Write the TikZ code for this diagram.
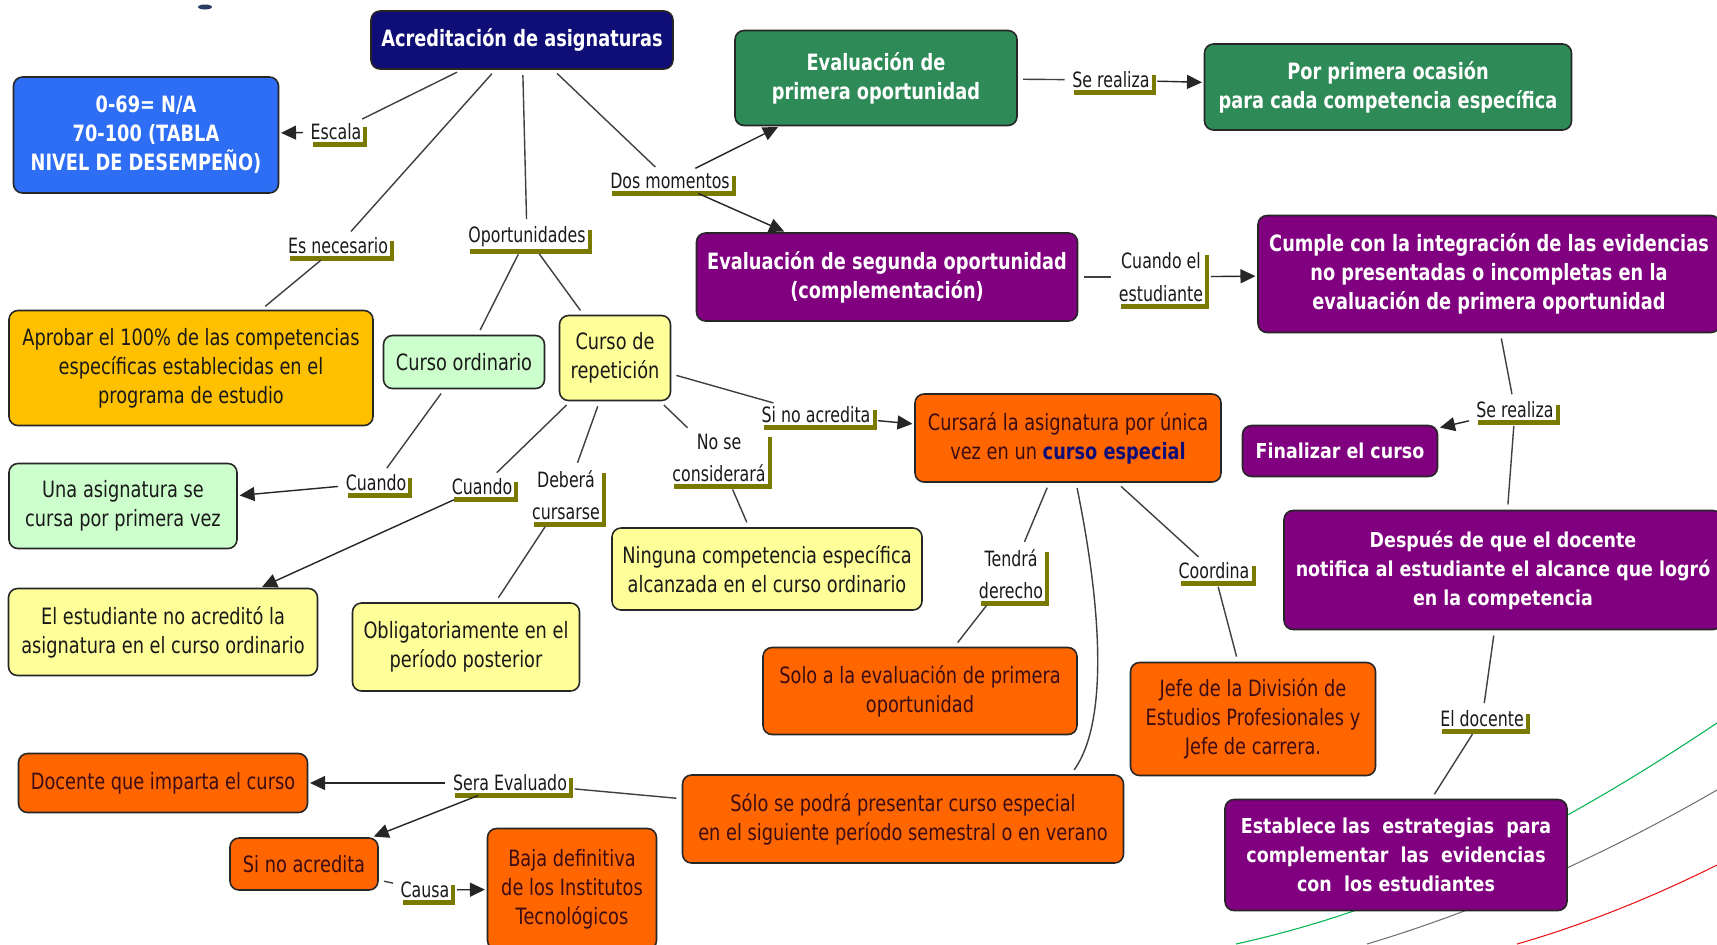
\documentclass[tikz,border=0pt]{standalone}
\usepackage{fontspec}
\setmainfont{DejaVu Sans}[FakeStretch=0.79]
\newfontfamily\lblfont{DejaVu Sans}[FakeStretch=0.75]
\newfontfamily\widefont{DejaVu Sans}[FakeStretch=0.85]
\usetikzlibrary{arrows.meta,shadows,calc}
\definecolor{navy}{RGB}{14,14,118}
\definecolor{bluebox}{RGB}{45,110,245}
\definecolor{greenbox}{RGB}{46,139,87}
\definecolor{purp}{RGB}{128,0,128}
\definecolor{gold}{RGB}{255,192,0}
\definecolor{lgreen}{RGB}{204,255,204}
\definecolor{lyellow}{RGB}{255,255,153}
\definecolor{orangebox}{RGB}{255,102,0}
\definecolor{orangetext}{RGB}{60,12,20}
\definecolor{olivebar}{RGB}{122,122,0}
\definecolor{arcgreen}{RGB}{0,180,80}
\definecolor{arcred}{RGB}{235,20,20}
\definecolor{markblue}{RGB}{40,60,100}
\tikzset{
  wh/.style 2 args={minimum width=#1*0.02cm, minimum height=#2*0.02cm},
  box/.style={draw=black!85, line width=0.9pt, rounded corners=0.18cm, align=center, inner sep=1pt},
  nbold/.style={box, text=white, font=\fontsize{12.8}{16.5}\selectfont\bfseries},
  nreg/.style={box, text=black!90, font=\fontsize{12.8}{16.5}\selectfont},
  norange/.style={box, fill=orangebox, text=orangetext, font=\fontsize{12.8}{16.5}\selectfont},
  nwide/.style={box, text=white, font=\widefont\bfseries\fontsize{11.7}{16.5}\selectfont},
  lbl/.style={fill=white, inner sep=1.2pt, align=center, text=black!90,
    font=\lblfont\fontsize{12}{18.5}\selectfont,
    drop shadow={shadow xshift=0.08cm, shadow yshift=-0.10cm, fill=olivebar, opacity=1}},
  conn/.style={line width=0.8pt, draw=black!75, shorten <=3pt, shorten >=3pt},
  arr/.style={line width=0.8pt, draw=black!85, shorten <=3pt, shorten >=1pt,
    -{Triangle[length=0.3cm,width=0.28cm]}},
  deco/.style={line width=0.6pt}
}
\begin{document}
\begin{tikzpicture}[x=0.02cm, y=-0.02cm]
\useasboundingbox[fill=white] (0,0) rectangle (1717,944);
% small cropped mark at the top edge
\fill[markblue] (205,7) ellipse (7 and 2.5);
% decorative arcs
\draw[deco, arcgreen] (1236,944) .. controls (1436,900) and (1597,803) .. (1717,723);
\draw[deco, black!55] (1367,944) .. controls (1507,902) and (1627,842) .. (1717,790);
\draw[deco, arcred] (1517,944) .. controls (1587,924) and (1657,895) .. (1717,865);
% concept nodes
\node[nbold, fill=navy, wh={302}{58}] (A) at (522,40) {Acreditación de asignaturas};
\node[nbold, fill=bluebox, wh={265}{116}] (B) at (146,135) {0-69= N/A\\70-100 (TABLA\\NIVEL DE DESEMPEÑO)};
\node[nbold, fill=greenbox, wh={282}{95}] (C) at (876,78) {Evaluación de\\primera oportunidad};
\node[nbold, fill=greenbox, wh={367}{86}] (D) at (1388,87) {Por primera ocasión\\para cada competencia específica};
\node[nbold, fill=purp, wh={381}{88}] (E) at (887,277) {Evaluación de segunda oportunidad\\(complementación)};
\node[nbold, fill=purp, wh={462}{117}] (F) at (1489,274) {Cumple con la integración de las evidencias\\no presentadas o incompletas en la\\evaluación de primera oportunidad};
\node[nreg, fill=gold, wh={364}{115}] (G) at (191,368) {Aprobar el 100\% de las competencias\\específicas establecidas en el\\programa de estudio};
\node[nreg, fill=lgreen, wh={161}{53}] (H) at (464,362) {Curso ordinario};
\node[nreg, fill=lyellow, wh={111}{85}] (I) at (615,358) {Curso de\\repetición};
\node[nreg, fill=lgreen, wh={228}{85}] (J) at (123,506) {Una asignatura se\\cursa por primera vez};
\node[nreg, fill=lyellow, wh={309}{87}] (K) at (163,632) {El estudiante no acreditó la\\asignatura en el curso ordinario};
\node[nreg, fill=lyellow, wh={227}{88}] (L) at (466,647) {Obligatoriamente en el\\período posterior};
\node[nreg, fill=lyellow, wh={310}{82}] (M) at (767,569) {Ninguna competencia específica\\alcanzada en el curso ordinario};
\node[norange, wh={306}{88}] (N) at (1068,438) {Cursará la asignatura por única\\vez en un {\bfseries\color{navy}curso especial}};
\node[nwide, fill=purp, wh={195}{51}] (O) at (1340,451) {Finalizar el curso};
\node[nwide, fill=purp, wh={438}{119}] (P) at (1503,570) {Después de que el docente\\notifica al estudiante el alcance que logró\\en la competencia};
\node[norange, wh={314}{87}] (Q) at (920,691) {Solo a la evaluación de primera\\oportunidad};
\node[norange, wh={245}{113}] (R) at (1253,719) {Jefe de la División de\\Estudios Profesionales y\\Jefe de carrera.};
\node[nwide, fill=purp, wh={342}{111}] (S) at (1396,855) {Establece las\ \ estrategias\ \ para\\complementar\ \ las\ \ evidencias\\con\ \ los estudiantes};
\node[norange, wh={289}{59}] (T) at (163,783) {Docente que imparta el curso};
\node[norange, wh={441}{88}] (U) at (903,819) {Sólo se podrá presentar curso especial\\en el siguiente período semestral o en verano};
\node[norange, wh={148}{52}] (V) at (304,864) {Si no acredita};
\node[norange, wh={169}{121}] (W) at (572,889) {Baja definitiva\\de los Institutos\\Tecnológicos};
% linking phrases
\node[lbl] (l1) at (336,132) {Escala};
\node[lbl] (l2) at (338,246) {Es necesario};
\node[lbl] (l3) at (527,237) {Oportunidades};
\node[lbl] (l4) at (670,181) {Dos momentos};
\node[lbl] (l5) at (1111,80) {Se realiza};
\node[lbl] (l6) at (1161,277) {Cuando el\\estudiante};
\node[lbl] (l7) at (816,415) {Si no acredita};
\node[lbl] (l8) at (719,458) {No se\\considerará};
\node[lbl] (l9) at (376,483) {Cuando};
\node[lbl] (l10) at (482,487) {Cuando};
\node[lbl] (l11) at (566,495) {Deberá\\cursarse};
\node[lbl] (l12) at (1011,574) {Tendrá\\derecho};
\node[lbl] (l13) at (1214,571) {Coordina};
\node[lbl] (l14) at (1515,410) {Se realiza};
\node[lbl] (l15) at (1482,719) {El docente};
\node[lbl] (l16) at (510,783) {Sera Evaluado};
\node[lbl] (l17) at (425,890) {Causa};
% connectors
\draw[conn] (A) -- (l1); \draw[arr] (l1) -- (B);
\draw[conn] (A) -- (l2); \draw[conn] (l2) -- (G);
\draw[conn] (A) -- (l3); \draw[conn] (l3) -- (H); \draw[conn] (l3) -- (I);
\draw[conn] (A) -- (l4); \draw[arr] (l4) -- (C); \draw[arr] (l4) -- (E);
\draw[conn] (C) -- (l5); \draw[arr] (l5) -- (D);
\draw[conn] (E) -- (l6); \draw[arr] (l6) -- (F);
\draw[conn] (F) -- (l14); \draw[conn] (P) -- (l14); \draw[arr] (l14) -- (O);
\draw[conn] (P) -- (l15); \draw[conn] (l15) -- (S);
\draw[conn] (I) -- (l7); \draw[arr] (l7) -- (N);
\draw[conn] (I) -- (l8); \draw[conn] (l8) -- (M);
\draw[conn] (H) -- (l9); \draw[arr] (l9) -- (J);
\draw[conn] (I) -- (l10); \draw[arr] (l10) -- (K);
\draw[conn] (I) -- (l11); \draw[conn] (l11) -- (L);
\draw[conn] (N) -- (l12); \draw[conn] (l12) -- (Q);
\draw[conn] (N) -- (l13); \draw[conn] (l13) -- (R);
\draw[conn] ($(N.south)+(8,0)$) .. controls (1100,600) and (1110,720) .. ($(U.north)+(168,0)$);
\draw[conn] (U) -- (l16); \draw[arr] (l16) -- (T); \draw[arr] (l16) -- (V);
\draw[conn] (V) -- (l17); \draw[arr] (l17) -- (W);
\end{tikzpicture}
\end{document}
